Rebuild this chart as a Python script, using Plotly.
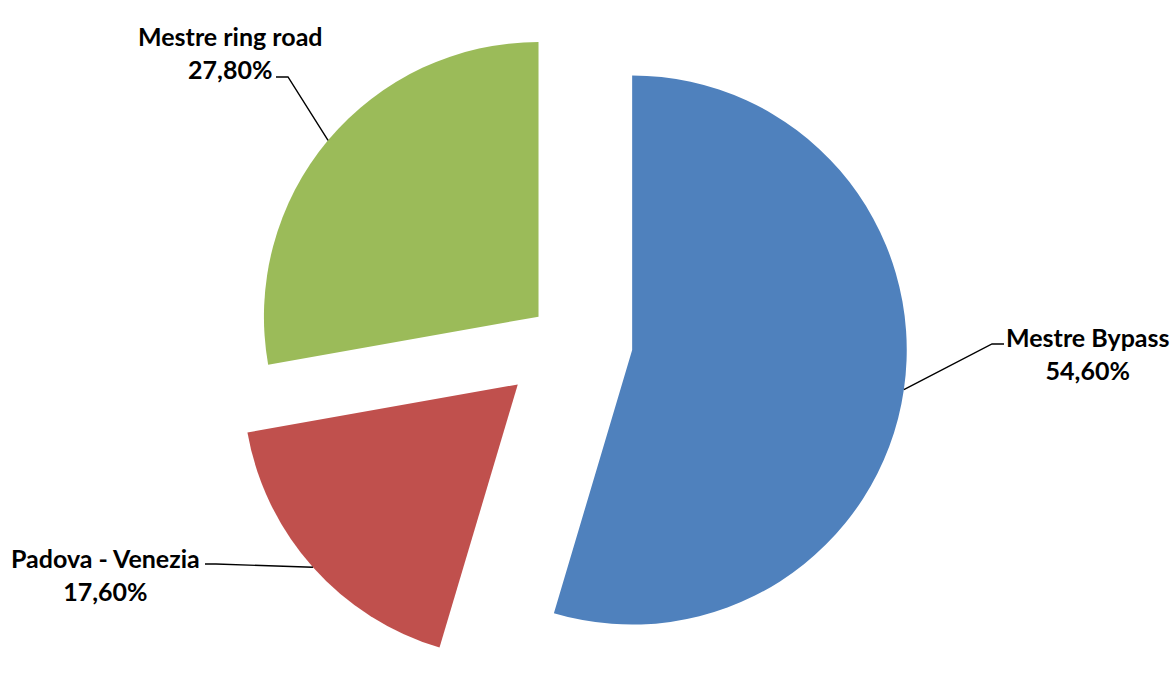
import math
import plotly.graph_objects as go

# ---- data ----
labels = ["Mestre Bypass", "Padova - Venezia", "Mestre ring road"]
values = [54.6, 17.6, 27.8]
colors = ["#4F81BD", "#C0504D", "#9BBB59"]
pulls = [0.24, 0.24, 0.135]

# ---- layout constants ----
W, H = 1175, 681
dom_x = [0.17, 0.795]
# label block centres (px) and leader start / elbow points (px)
label_pos = [(1088, 353), (105, 574), (230, 52)]
leader_start = [(1004, 344), (205, 564), (276, 77)]
leader_elbow = [(992, 344), (216, 564), (288, 77)]

fig = go.Figure(go.Pie(
    labels=labels, values=values, pull=pulls,
    marker=dict(colors=colors, line=dict(width=0)),
    sort=False, direction="clockwise", rotation=0,
    textinfo="none", hoverinfo="label+percent",
    domain=dict(x=dom_x, y=[0, 1]), showlegend=False,
))

# geometry of the pie as plotly computes it (used for leader lines)
max_pull = max(pulls)
box_w = W * (dom_x[1] - dom_x[0])
r = min(box_w, H) / (2 + 2 * max_pull)
cx = W * (dom_x[0] + dom_x[1]) / 2
cy = H / 2
total = sum(values)

def px2paper(x, y):
    return x / W, 1 - y / H

annotations = []
shapes = []
cum = 0.0
for i, v in enumerate(values):
    mid = 2 * math.pi * (cum + v / 2) / total
    cum += v
    ux, uy = math.sin(mid), -math.cos(mid)
    ax = cx + pulls[i] * r * ux
    ay = cy + pulls[i] * r * uy
    ex, ey = ax + r * ux, ay + r * uy
    p1 = px2paper(*leader_start[i])
    p2 = px2paper(*leader_elbow[i])
    p3 = px2paper(ex, ey)
    shapes.append(dict(
        type="path", xref="paper", yref="paper",
        path=f"M {p1[0]},{p1[1]} L {p2[0]},{p2[1]} L {p3[0]},{p3[1]}",
        line=dict(color="black", width=1.4),
    ))
    pct = f"{v:.2f}%".replace(".", ",")
    lx, ly = px2paper(*label_pos[i])
    annotations.append(dict(
        x=lx, y=ly, xref="paper", yref="paper", showarrow=False,
        text=f"<b>{labels[i]}</b><br><b>{pct}</b>",
        xanchor="center", yanchor="middle", align="center",
        font=dict(family="Lato", size=25, color="black"),
    ))

fig.update_layout(
    width=W, height=H,
    margin=dict(l=0, r=0, t=0, b=0),
    paper_bgcolor="white", plot_bgcolor="white",
    annotations=annotations, shapes=shapes,
)

fig.write_html(
    "out.html",
    config={"displayModeBar": False},
    post_script="document.body.style.margin='0px';document.body.style.overflow='hidden';",
)
